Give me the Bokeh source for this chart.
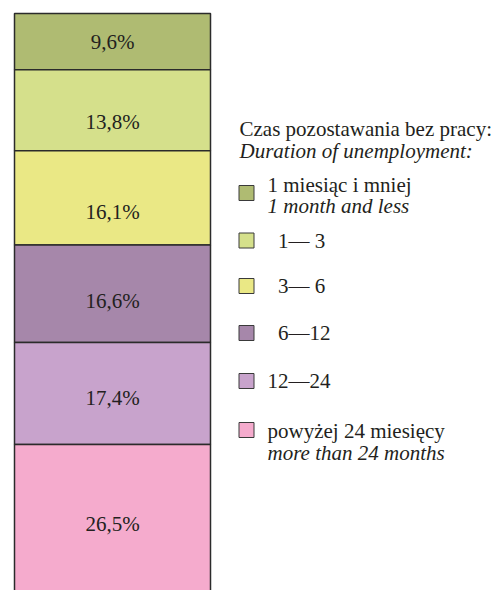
import numpy as np
from bokeh.plotting import figure
from bokeh.models import Range1d, ColumnDataSource
from bokeh.core.properties import value
from bokeh.embed import file_html
from bokeh.resources import INLINE

# ---- data ----
shares = [9.6, 13.8, 16.1, 16.6, 17.4, 26.5]
colors = ["#AFBB72", "#D5E08B", "#EAE885", "#A687AA", "#C8A3CC", "#F5ABCD"]
labels_pl = ["1 miesiąc i mniej", "\u20071—\u00a03", "\u20073—\u00a06", "\u20076—12", "12—24", "powyżej 24 miesięcy"]
labels_en = ["1 month and less", "", "", "", "", "more than 24 months"]
title_pl = "Czas pozostawania bez pracy:"
title_en = "Duration of unemployment:"

FONT = value("Liberation Serif")
FS = "21px"
TXT = "#231F20"

ends = np.cumsum(shares)
starts = ends - np.array(shares)
mids = (starts + ends) / 2
pct = [f"{s:.1f}".replace(".", ",") + "%" for s in shares]
label_shift_px = [0, 12, 14, 7, 5, 2]  # layout: label placement within segment

W, H = 497, 590
p = figure(width=W, height=H, x_range=Range1d(0, W), y_range=Range1d(98.4, -2.217),
           output_backend="svg", toolbar_location=None, min_border=0,
           x_axis_location=None, y_axis_location=None)
p.extra_y_ranges = {"px": Range1d(H, 0)}
p.grid.visible = False
p.outline_line_color = None
p.background_fill_color = "white"
p.border_fill_color = "white"

bar = ColumnDataSource(dict(bottom=starts, top=ends, mid=mids, color=colors, pct=pct,
                            dy=label_shift_px))
p.vbar(x=112, width=196, bottom="bottom", top="top", fill_color="color",
       line_color="#2b2b2b", line_width=1.5, source=bar)
p.text(x=112, y="mid", y_offset="dy", text="pct", source=bar, text_font=FONT, text_font_size=FS,
       text_color=TXT, text_align="center", text_baseline="middle")

# ---- legend (pixel layout) ----
sq_y = [192.5, 240, 285.5, 332.5, 380.5, 429.5]
leg = ColumnDataSource(dict(y=sq_y, color=colors))
p.rect(x=246, y="y", width=15, height=15, fill_color="color", line_color="#3a3a3a",
       line_width=1, source=leg, y_range_name="px")

pl_y = [184, 240, 285.5, 332, 380, 430]
en_y = [205, None, None, None, None, 452]
p.text(x=[267] * 6, y=pl_y, text=labels_pl, text_font=FONT, text_font_size=FS,
       text_color=TXT, text_baseline="middle", y_range_name="px")
en_idx = [i for i, t in enumerate(labels_en) if t]
p.text(x=[267] * len(en_idx), y=[en_y[i] for i in en_idx], text=[labels_en[i] for i in en_idx],
       text_font=FONT, text_font_size=FS, text_font_style="italic",
       text_color=TXT, text_baseline="middle", y_range_name="px")

p.text(x=[239], y=[128], text=[title_pl], text_font=FONT, text_font_size=FS,
       text_color=TXT, text_baseline="middle", y_range_name="px")
p.text(x=[239], y=[150], text=[title_en], text_font=FONT, text_font_size=FS,
       text_font_style="italic", text_color=TXT, text_baseline="middle", y_range_name="px")

open("out.html", "w").write(file_html(p, INLINE))
